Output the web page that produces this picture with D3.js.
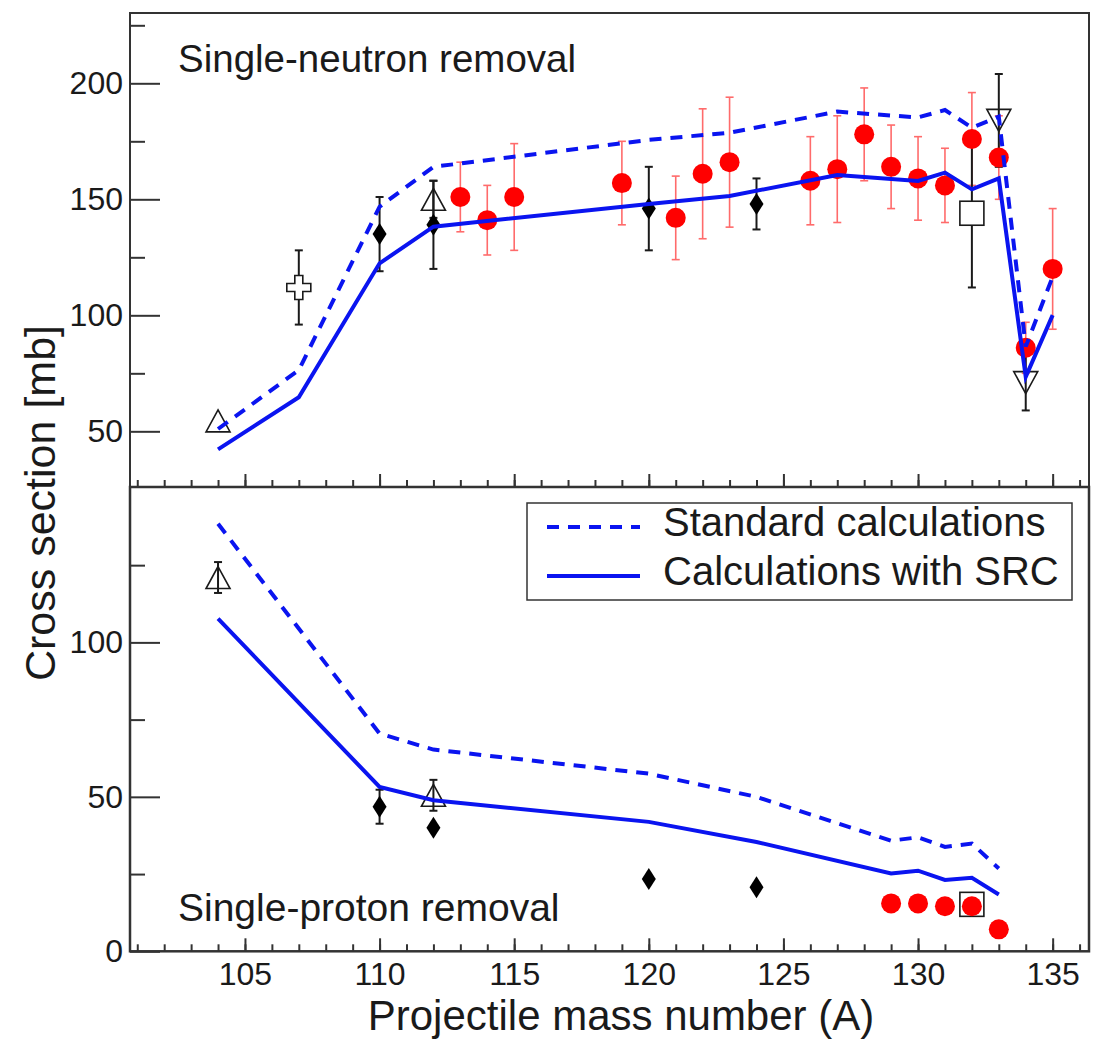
<!DOCTYPE html>
<html>
<head>
<meta charset="utf-8">
<script src="https://cdn.jsdelivr.net/npm/d3@7"></script>
<style>
  html, body { margin: 0; padding: 0; background: #fff; }
  svg { display: block; font-family: "Liberation Sans", Arial, Helvetica, sans-serif; }
</style>
</head>
<body>
<div id="chart"></div>
<script>
// ---- calculations (blue lines) ----
// single-neutron removal
var nCalcA = [104, 107, 110, 112, 120, 123, 127, 130, 131, 132, 133, 134, 135];
var nStd   = [51, 76.4, 146.8, 164, 175.6, 178.7, 187.8, 185.3, 188.5, 180.9, 185.6, 86.5, 116.6];
var nSrc   = [42.2, 64.7, 122.4, 138.2, 148, 151.4, 160.5, 157.9, 161.5, 154.3, 159, 73.5, 100.1];
// single-proton removal
var pCalcA = [104, 110, 112, 120, 124, 129, 130, 131, 132, 133];
var pStd   = [138.4, 70.5, 65.3, 57.5, 50, 35.8, 36.9, 33.8, 34.9, 26.8];
var pSrc   = [107.7, 53.2, 48.9, 41.9, 35.4, 25.2, 26.1, 23.1, 23.8, 18.4];

// ---- measurements, single-neutron ----
var nRedA   = [113, 114, 115, 119, 121, 122, 123, 126, 127, 128, 129, 130, 131, 132, 133, 134, 135];
var nRed    = [151, 141, 151, 157, 142, 161, 166, 158, 163, 178, 164, 159, 156, 176, 168, 86, 120];
var nRedErr = [15, 15, 23, 18, 18, 28, 28, 19, 23, 20, 18, 18, 16, 20, 18, 11, 26];
var nDiaA   = [110, 112, 120, 124];
var nDia    = [135, 139, 146, 148];
var nDiaErr = [16, 19, 18, 11];
var nTriA   = [104, 112];
var nTri    = [54.5, 150];
var nTriErr = [0, 8];
var nCrossA = [107];
var nCross  = [112];
var nCrossErr = [16];
var nSqA    = [132];
var nSq     = [144];
var nSqErr  = [32];
var nTriDA  = [133, 134];
var nTriD   = [184, 71];
var nTriDErr = [20, 12];

// ---- measurements, single-proton ----
var pRedA   = [129, 130, 131, 132, 133];
var pRed    = [15.5, 15.5, 14.6, 14.6, 7.1];
var pDiaA   = [110, 112, 120, 124];
var pDia    = [46.8, 40, 23.4, 20.7];
var pDiaErr = [5.5, 0, 0, 0];
var pTriA   = [104, 112];
var pTri    = [121, 50.5];
var pTriErr = [5, 5];
var pSqA    = [132];
var pSq     = [15.2];

var xMajor = [105, 110, 115, 120, 125, 130, 135];
var xMinor = d3.range(101, 137);
var nMajor = [50, 100, 150, 200];
var nMinor = [75, 125, 175, 225];
var pMajor = [0, 50, 100];
var pMinor = [25, 75, 125];

var legendLabels = ['Standard calculations', 'Calculations with SRC'];

var W = 1094, H = 1043;
var L = 130, R = 1089, T = 13, MID = 487, B = 951.3;
var FRAME = '#333', BLUE = '#0a14f0', RED = '#ff0000', REDBAR = '#ff6b6b', INK = '#1a1a1a';

var svg = d3.select('#chart').append('svg').attr('width', W).attr('height', H);

var x = d3.scaleLinear().domain([100.73, 136.35]).range([L, R]);
var yN = d3.scaleLinear().domain([26, 230.3]).range([MID, T]);
var yP = d3.scaleLinear().domain([0, 150.3]).range([B, MID]);

function zip(a, v, e) {
  return a.map(function (d, i) { return { a: d, v: v[i], e: e ? e[i] : 0 }; });
}

function styleAxis(g) {
  g.select('.domain').remove();
  g.selectAll('line').attr('stroke', FRAME).attr('stroke-width', 2);
  g.selectAll('text').attr('fill', INK).attr('font-size', 32).attr('font-family', '"Liberation Sans", Arial, sans-serif');
}

// axes
svg.append('g').attr('transform', 'translate(0,' + B + ')')
  .call(d3.axisBottom(x).tickValues(xMinor).tickSize(-7).tickFormat('')).call(styleAxis);
svg.append('g').attr('transform', 'translate(0,' + B + ')')
  .call(d3.axisBottom(x).tickValues(xMajor).tickSize(-13).tickPadding(11).tickFormat(d3.format('d'))).call(styleAxis);
svg.append('g').attr('transform', 'translate(0,' + MID + ')')
  .call(d3.axisBottom(x).tickValues(xMinor).tickSize(-7).tickFormat('')).call(styleAxis);
svg.append('g').attr('transform', 'translate(0,' + MID + ')')
  .call(d3.axisBottom(x).tickValues(xMajor).tickSize(-13).tickFormat('')).call(styleAxis);

svg.append('g').attr('transform', 'translate(' + L + ',0)')
  .call(d3.axisLeft(yN).tickValues(nMinor).tickSize(-15).tickFormat('')).call(styleAxis);
svg.append('g').attr('transform', 'translate(' + L + ',0)')
  .call(d3.axisLeft(yN).tickValues(nMajor).tickSize(-30).tickPadding(7).tickFormat(d3.format('d'))).call(styleAxis);
svg.append('g').attr('transform', 'translate(' + L + ',0)')
  .call(d3.axisLeft(yP).tickValues(pMinor).tickSize(-15).tickFormat('')).call(styleAxis);
svg.append('g').attr('transform', 'translate(' + L + ',0)')
  .call(d3.axisLeft(yP).tickValues(pMajor).tickSize(-30).tickPadding(7).tickFormat(d3.format('d'))).call(styleAxis);

// frames
svg.append('rect').attr('x', L).attr('y', T).attr('width', R - L).attr('height', MID - T)
  .attr('fill', 'none').attr('stroke', FRAME).attr('stroke-width', 2);
svg.append('rect').attr('x', L).attr('y', MID).attr('width', R - L).attr('height', B - MID)
  .attr('fill', 'none').attr('stroke', FRAME).attr('stroke-width', 2.5);

// marker shapes
var diamond = 'M0,-11L7,0L0,11L-7,0Z';
var triUp = 'M0,-11L12,11L-12,11Z';
var triDown = 'M0,11L12,-11L-12,-11Z';
var cross = 'M-4,-12H4V-4H12V4H4V12H-4V4H-12V-4H-4Z';

function errBars(g, y, data, color, w) {
  var d = data.filter(function (p) { return p.e > 0; });
  var eg = g.append('g').attr('stroke', color).attr('stroke-width', w);
  eg.selectAll('line.v').data(d).enter().append('line')
    .attr('x1', function (p) { return x(p.a); }).attr('x2', function (p) { return x(p.a); })
    .attr('y1', function (p) { return y(p.v - p.e); }).attr('y2', function (p) { return y(p.v + p.e); });
  [-1, 1].forEach(function (s) {
    eg.selectAll(null).data(d).enter().append('line')
      .attr('x1', function (p) { return x(p.a) - 4; }).attr('x2', function (p) { return x(p.a) + 4; })
      .attr('y1', function (p) { return y(p.v + s * p.e); }).attr('y2', function (p) { return y(p.v + s * p.e); });
  });
}

function symbols(g, y, data, path, fill) {
  g.selectAll(null).data(data).enter().append('path')
    .attr('d', path)
    .attr('transform', function (p) { return 'translate(' + x(p.a) + ',' + y(p.v) + ')'; })
    .attr('fill', fill).attr('stroke', INK).attr('stroke-width', fill === 'none' || fill === '#fff' ? 1.6 : 0);
}

function squares(g, y, data, fill) {
  g.selectAll(null).data(data).enter().append('rect')
    .attr('x', function (p) { return x(p.a) - 12; }).attr('y', function (p) { return y(p.v) - 12; })
    .attr('width', 24).attr('height', 24)
    .attr('fill', fill).attr('stroke', INK).attr('stroke-width', 1.6);
}

function circles(g, y, data) {
  g.selectAll(null).data(data).enter().append('circle')
    .attr('cx', function (p) { return x(p.a); }).attr('cy', function (p) { return y(p.v); })
    .attr('r', 10).attr('fill', RED);
}

function calcLines(g, y, a, std, src) {
  var line = d3.line().x(function (p) { return x(p.a); }).y(function (p) { return y(p.v); });
  g.append('path').datum(zip(a, std)).attr('d', line).attr('fill', 'none')
    .attr('stroke', BLUE).attr('stroke-width', 4).attr('stroke-dasharray', '12,9');
  g.append('path').datum(zip(a, src)).attr('d', line).attr('fill', 'none')
    .attr('stroke', BLUE).attr('stroke-width', 4);
}

// top panel: single-neutron removal
var gn = svg.append('g');
var nRedD = zip(nRedA, nRed, nRedErr);
errBars(gn, yN, nRedD, REDBAR, 1.6);
var nBlack = [].concat(zip(nDiaA, nDia, nDiaErr), zip(nTriA, nTri, nTriErr), zip(nCrossA, nCross, nCrossErr),
  zip(nSqA, nSq, nSqErr), zip(nTriDA, nTriD, nTriDErr));
errBars(gn, yN, nBlack, INK, 2);
symbols(gn, yN, zip(nTriA, nTri), triUp, 'none');
symbols(gn, yN, zip(nTriDA, nTriD), triDown, 'none');
symbols(gn, yN, zip(nCrossA, nCross), cross, '#fff');
squares(gn, yN, zip(nSqA, nSq), '#fff');
circles(gn, yN, nRedD);
symbols(gn, yN, zip(nDiaA, nDia), diamond, '#000');
calcLines(gn, yN, nCalcA, nStd, nSrc);

// bottom panel: single-proton removal
var gp = svg.append('g');
var pBlack = [].concat(zip(pDiaA, pDia, pDiaErr), zip(pTriA, pTri, pTriErr));
errBars(gp, yP, pBlack, INK, 2);
symbols(gp, yP, zip(pTriA, pTri), triUp, 'none');
squares(gp, yP, zip(pSqA, pSq), '#fff');
circles(gp, yP, zip(pRedA, pRed));
symbols(gp, yP, zip(pDiaA, pDia), diamond, '#000');
calcLines(gp, yP, pCalcA, pStd, pSrc);

// panel labels
svg.append('text').attr('x', 178).attr('y', 72).attr('font-size', 38.5).attr('fill', INK).text('Single-neutron removal');
svg.append('text').attr('x', 178).attr('y', 921).attr('font-size', 39).attr('fill', INK).text('Single-proton removal');

// legend
var lg = svg.append('g');
lg.append('rect').attr('x', 527).attr('y', 503).attr('width', 545).attr('height', 97)
  .attr('fill', '#fff').attr('stroke', FRAME).attr('stroke-width', 1.5);
legendLabels.forEach(function (t, i) {
  var yy = 527 + i * 49;
  lg.append('line').attr('x1', 547).attr('x2', 640).attr('y1', yy).attr('y2', yy)
    .attr('stroke', BLUE).attr('stroke-width', 4).attr('stroke-dasharray', i === 0 ? '12,9' : null);
  lg.append('text').attr('x', 663).attr('y', yy + 9).attr('font-size', 40).attr('fill', INK).text(t);
});

// axis titles
svg.append('text').attr('x', 621).attr('y', 1030).attr('text-anchor', 'middle')
  .attr('font-size', 42).attr('fill', INK).text('Projectile mass number (A)');
svg.append('text').attr('transform', 'translate(55,503) rotate(-90)').attr('text-anchor', 'middle')
  .attr('font-size', 43).attr('fill', INK).text('Cross section [mb]');
</script>
</body>
</html>
